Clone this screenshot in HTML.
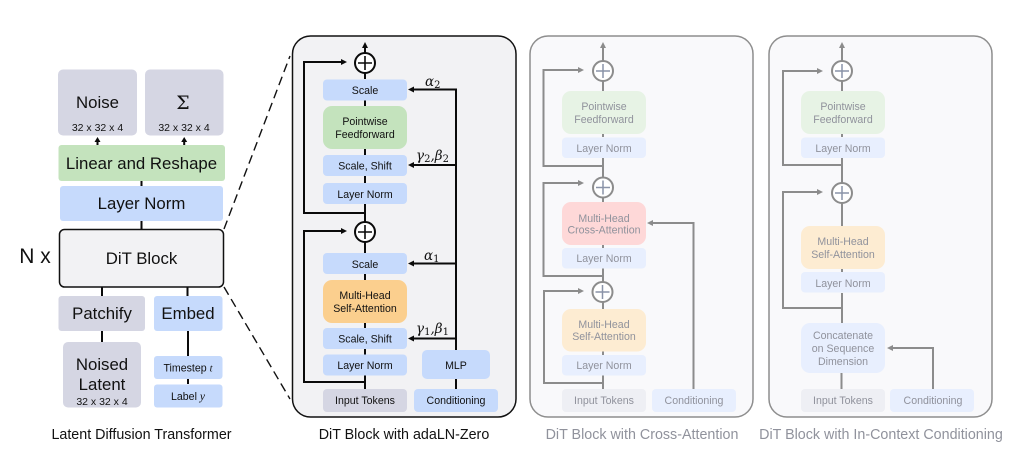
<!DOCTYPE html>
<html><head><meta charset="utf-8"><style>
html,body{margin:0;padding:0;background:#fff;width:1028px;height:462px;overflow:hidden}
svg{display:block}
text{font-family:"Liberation Sans",sans-serif;text-anchor:middle;fill:#111}
.m{font-family:"DejaVu Serif","Liberation Serif",serif;font-style:italic;text-anchor:start;font-size:13.5px}
.s{font-size:10px;font-style:normal}
.k{fill:none;stroke:#0a0a0a;stroke-width:2}
.g{fill:none;stroke:#8c8c8c;stroke-width:2}
.t{font-size:10.6px}
.gt text,text.gt{fill:#90929c}
</style></head><body>
<svg width="1028" height="462" viewBox="0 0 1028 462" xmlns="http://www.w3.org/2000/svg">
<!-- Left column connectors -->
<path class="k" d="M141.500 181V186M141.500 221V230M102 287V296M102 331V342M187.500 287V296M188 331V356M188 379V384"/>
<path fill="#0a0a0a" d="M97.500 137l-3 5h2v4h2v-4h2zM184.200 137l-3 5h2v4h2v-4h2z"/>
<rect x="58" y="69.500" width="79" height="66" rx="5" fill="#d5d6e3"/>
<rect x="145" y="69.500" width="78.500" height="66" rx="5" fill="#d5d6e3"/>
<rect x="58.500" y="145" width="166.500" height="36" rx="3" fill="#c4e3bd"/>
<rect x="60" y="186" width="163" height="35" rx="3" fill="#c6dafc"/>
<rect x="59.500" y="229.500" width="164" height="57.500" rx="5" fill="#f2f2f4" stroke="#111" stroke-width="1.500"/>
<rect x="58.500" y="296" width="86.500" height="35" rx="3" fill="#d5d6e3"/>
<rect x="154" y="296" width="68.500" height="35" rx="3" fill="#c6dafc"/>
<rect x="63" y="342" width="78" height="65.500" rx="5" fill="#d5d6e3"/>
<rect x="154" y="356" width="68.500" height="23" rx="3" fill="#c6dafc"/>
<rect x="154" y="384.500" width="68.500" height="23" rx="3" fill="#c6dafc"/>
<text x="97.500" y="108" font-size="16.800">Noise</text>
<text x="183" y="109" font-size="19" style="font-family:'DejaVu Serif','Liberation Serif',serif">Σ</text>
<text x="97.500" y="131" font-size="10.500">32 x 32 x 4</text>
<text x="184" y="131" font-size="10.500">32 x 32 x 4</text>
<text x="141.500" y="169" font-size="16.800">Linear and Reshape</text>
<text x="141.500" y="209" font-size="16.800">Layer Norm</text>
<text x="141.500" y="264" font-size="16.800">DiT Block</text>
<text x="102" y="319" font-size="16.800">Patchify</text>
<text x="188" y="319" font-size="16.800">Embed</text>
<text x="102" y="370" font-size="16.800">Noised</text>
<text x="102" y="390" font-size="16.800">Latent</text>
<text x="102" y="405" font-size="10.500">32 x 32 x 4</text>
<text x="188" y="371.500" font-size="10.600">Timestep <tspan style="font-family:'Liberation Serif',serif;font-style:italic">t</tspan></text>
<text x="188" y="400" font-size="10.600">Label <tspan style="font-family:'Liberation Serif',serif;font-style:italic;font-size:11.500px">y</tspan></text>
<text x="35" y="263" font-size="21">N x</text>
<text x="141.500" y="439" font-size="14.300">Latent Diffusion Transformer</text>
<path d="M224 229L290 56M224 287L290 399" fill="none" stroke="#111" stroke-width="1.400" stroke-dasharray="9 5"/>

<!-- Panel 1 -->
<rect x="292.500" y="36" width="223.500" height="381" rx="18" fill="#f2f2f4" stroke="#111" stroke-width="1.500"/>
<path class="k" d="M365 46V53M365 73V79M365 100V106M365 149V155M365 176V183M365 204V222M365 213H304V62H344M365 242V253M365 274V280M365 323V328M365 349V354.500M365 375V389M365 382H304V231H344"/>
<path class="k" d="M456 350V89.500H411M456 165H411M456 263.500H411M456 338.500H411M456 379V389"/>
<path fill="#0a0a0a" d="M365 42l-3 6h6zM347 62l-6-3v6zM347 231l-6-3v6zM408 89.500l6-3v6zM408 165l6-3v6zM408 263.500l6-3v6zM408 338.500l6-3v6z"/>
<g fill="#fff" stroke="#0a0a0a" stroke-width="2"><circle cx="365" cy="63" r="10"/><circle cx="365" cy="232" r="10"/></g>
<path d="M358 63H372M365 56V70M358 232H372M365 225V239" stroke="#0a0a0a" stroke-width="1.600"/>
<g fill="#c6dafc">
<rect x="323" y="79.500" width="84" height="21" rx="4"/>
<rect x="323" y="155" width="84" height="21" rx="4"/>
<rect x="323" y="183" width="84" height="21" rx="4"/>
<rect x="323" y="253" width="84" height="21" rx="4"/>
<rect x="323" y="328" width="84" height="21" rx="4"/>
<rect x="323" y="354.500" width="84" height="21" rx="4"/>
<rect x="422" y="350" width="68" height="29" rx="5"/>
<rect x="414" y="389" width="84" height="23" rx="4"/>
</g>
<rect x="323" y="106" width="84" height="43" rx="9" fill="#c4e3bd"/>
<rect x="323" y="280" width="84" height="43" rx="9" fill="#fbcf8e"/>
<rect x="323" y="389" width="84" height="23" rx="4" fill="#d5d6e3"/>
<g class="t">
<text x="365" y="94">Scale</text>
<text x="365" y="125">Pointwise</text>
<text x="365" y="138">Feedforward</text>
<text x="365" y="169.500">Scale, Shift</text>
<text x="365" y="198">Layer Norm</text>
<text x="365" y="268">Scale</text>
<text x="365" y="299">Multi-Head</text>
<text x="365" y="312">Self-Attention</text>
<text x="365" y="342.500">Scale, Shift</text>
<text x="365" y="369">Layer Norm</text>
<text x="365" y="404">Input Tokens</text>
<text x="456" y="404">Conditioning</text>
<text x="456" y="369">MLP</text>
</g>
<text class="m" x="425" y="86">α<tspan class="s" dy="2">2</tspan></text>
<text class="m" x="416" y="160">γ<tspan class="s" dy="2">2</tspan><tspan dy="-2">,β</tspan><tspan class="s" dy="2">2</tspan></text>
<text class="m" x="424" y="260">α<tspan class="s" dy="2">1</tspan></text>
<text class="m" x="416" y="333">γ<tspan class="s" dy="2">1</tspan><tspan dy="-2">,β</tspan><tspan class="s" dy="2">1</tspan></text>
<text x="404" y="439" font-size="14.300">DiT Block with adaLN-Zero</text>

<!-- Panel 2 -->
<rect x="530" y="36" width="223" height="381" rx="18" fill="#f9f9fb" stroke="#8e8e8e" stroke-width="1.500"/>
<path class="g" d="M603 47V61M603 81V91M603 134V137M603 158V177M603 166H543.500V70H581M603 197V202M603 245V248M603 268V282M603 276H543.500V183H581M603 302V309M603 351V355M603 375V389M603 383H544V291H581M693.500 389V223H650"/>
<path fill="#8c8c8c" d="M603 42l-3 6h6zM584 70l-6-3v6zM584 183l-6-3v6zM584 291l-6-3v6zM647 223l6-3v6z"/>
<g fill="#fff" stroke="#8c8c8c" stroke-width="2"><circle cx="603" cy="71" r="10"/><circle cx="603" cy="187.500" r="10"/><circle cx="602.500" cy="292" r="10"/></g>
<path d="M596 71H610M603 64V78M596 187.500H610M603 180.500V194.500M595.500 292H609.500M602.500 285V299" stroke="#8a93a8" stroke-width="1.500"/>
<rect x="562" y="91" width="84" height="43" rx="9" fill="#e7f3e5"/>
<rect x="562" y="137.500" width="84" height="20.500" rx="4" fill="#e8effe"/>
<rect x="562" y="202" width="84" height="43" rx="9" fill="#fed8d8"/>
<rect x="562" y="248" width="84" height="20.500" rx="4" fill="#e8effe"/>
<rect x="562" y="309" width="84" height="42.500" rx="9" fill="#fdecd2"/>
<rect x="562" y="355" width="84" height="20.500" rx="4" fill="#e8effe"/>
<rect x="562" y="389" width="84" height="23" rx="4" fill="#eeeff4"/>
<rect x="652" y="389" width="84" height="23" rx="4" fill="#e8effe"/>
<g class="t gt">
<text x="604" y="110">Pointwise</text>
<text x="604" y="123">Feedforward</text>
<text x="604" y="152">Layer Norm</text>
<text x="604" y="222">Multi-Head</text>
<text x="604" y="233.500">Cross-Attention</text>
<text x="604" y="262">Layer Norm</text>
<text x="604" y="328">Multi-Head</text>
<text x="604" y="340">Self-Attention</text>
<text x="604" y="369">Layer Norm</text>
<text x="604" y="404">Input Tokens</text>
<text x="694" y="404">Conditioning</text>
</g>
<text class="gt" x="642" y="439" font-size="14.300">DiT Block with Cross-Attention</text>

<!-- Panel 3 -->
<rect x="769" y="36" width="223" height="381" rx="18" fill="#f9f9fb" stroke="#8e8e8e" stroke-width="1.500"/>
<path class="g" d="M842 47V61M842 81V91M842 134V137M842 158V183M842 165H783V71H820M842 203V226M842 269V272M842 293V323M842 308H783V192H820M841.500 373V389M933 389V348H890"/>
<path fill="#8c8c8c" d="M842 42l-3 6h6zM823 71l-6-3v6zM823 192l-6-3v6zM887 348l6-3v6z"/>
<g fill="#fff" stroke="#8c8c8c" stroke-width="2"><circle cx="842" cy="71" r="10"/><circle cx="842" cy="193" r="10"/></g>
<path d="M835 71H849M842 64V78M835 193H849M842 186V200" stroke="#8a93a8" stroke-width="1.500"/>
<rect x="801" y="91" width="84" height="43" rx="9" fill="#e7f3e5"/>
<rect x="801" y="137.500" width="84" height="20.500" rx="4" fill="#e8effe"/>
<rect x="801" y="226" width="84" height="43" rx="9" fill="#fdecd2"/>
<rect x="801" y="272" width="84" height="20.500" rx="4" fill="#e8effe"/>
<rect x="801" y="323" width="84" height="50" rx="9" fill="#e8effe"/>
<rect x="801" y="389" width="84" height="23" rx="4" fill="#eeeff4"/>
<rect x="890" y="389" width="84" height="23" rx="4" fill="#e8effe"/>
<g class="t gt">
<text x="843" y="110">Pointwise</text>
<text x="843" y="123">Feedforward</text>
<text x="843" y="152">Layer Norm</text>
<text x="843" y="245">Multi-Head</text>
<text x="843" y="258">Self-Attention</text>
<text x="843" y="287">Layer Norm</text>
<text x="843" y="339">Concatenate</text>
<text x="843" y="352">on Sequence</text>
<text x="843" y="365">Dimension</text>
<text x="843" y="404">Input Tokens</text>
<text x="933" y="404">Conditioning</text>
</g>
<text class="gt" x="881" y="439" font-size="14.300">DiT Block with In-Context Conditioning</text>
</svg>
</body></html>
